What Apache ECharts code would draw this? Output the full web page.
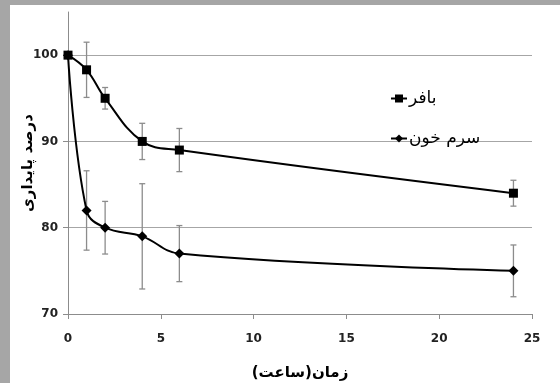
<!DOCTYPE html>
<html>
<head>
<meta charset="utf-8">
<script src="https://cdn.jsdelivr.net/npm/echarts@6/dist/echarts.min.js"></script>
<style>
html,body{margin:0;padding:0;}
#wrap{position:relative;width:560px;height:383px;background:#a6a6a6;overflow:hidden;}
#chart{position:absolute;left:10px;top:5px;width:550px;height:378px;background:#fff;}
</style>
</head>
<body>
<div id="wrap"><div id="chart"></div></div>
<script>
var times = [0, 1, 2, 4, 6, 24];
var bufferName = 'بافر';
var bufferValues = [100, 98.3, 95, 90, 89, 84];
var bufferErrors = [0, 3.2, 1.25, 2.1, 2.5, 1.5];
var serumName = 'سرم خون';
var serumValues = [100, 82, 80, 79, 77, 75];
var serumErrors = [0, 4.6, 3.05, 6.1, 3.25, 3.0];
var xTitle = 'زمان(ساعت)';
var yTitle = 'درصد پایداری';

function pairs(xs, ys) { return xs.map(function (x, i) { return [x, ys[i]]; }); }
function errData(xs, ys, es) {
  var out = [];
  xs.forEach(function (x, i) { if (es[i] > 0) out.push([x, ys[i] - es[i], ys[i] + es[i]]); });
  return out;
}
function errRender(params, api) {
  var x = api.value(0);
  var lo = api.coord([x, api.value(1)]);
  var hi = api.coord([x, api.value(2)]);
  var cap = 3;
  var st = { stroke: '#8c8c8c', lineWidth: 1.3 };
  return {
    type: 'group',
    children: [
      { type: 'line', shape: { x1: lo[0], y1: lo[1], x2: hi[0], y2: hi[1] }, style: st },
      { type: 'line', shape: { x1: lo[0] - cap, y1: lo[1], x2: lo[0] + cap, y2: lo[1] }, style: st },
      { type: 'line', shape: { x1: hi[0] - cap, y1: hi[1], x2: hi[0] + cap, y2: hi[1] }, style: st }
    ]
  };
}

var chart = echarts.init(document.getElementById('chart'), null, { renderer: 'canvas' });
var font = 'DejaVu Sans';
chart.setOption({
  animation: false,
  backgroundColor: '#ffffff',
  textStyle: { fontFamily: font },
  grid: { left: 58, right: 28, top: 7, bottom: 69, containLabel: false, outerBoundsMode: 'none' },
  legend: {
    orient: 'vertical',
    left: 375,
    top: 80,
    itemGap: 23,
    itemWidth: 16,
    itemHeight: 10,
    data: [bufferName, serumName],
    textStyle: { fontSize: 17, color: '#000', fontFamily: font, padding: [0, 0, 0, -3] }
  },
  xAxis: {
    type: 'value',
    min: 0, max: 25, interval: 5,
    name: xTitle,
    nameLocation: 'middle',
    nameGap: 52,
    nameMoveOverlap: false,
    nameTextStyle: { fontSize: 15, fontWeight: 'bold', color: '#000', fontFamily: font },
    axisLine: { show: true, lineStyle: { color: '#8c8c8c', width: 1 } },
    axisTick: { show: true, inside: false, length: 5, lineStyle: { color: '#8c8c8c' } },
    axisLabel: { fontSize: 12, fontWeight: 'bold', color: '#222', margin: 19, fontFamily: font },
    splitLine: { show: false }
  },
  yAxis: {
    type: 'value',
    min: 70, max: 105, interval: 10,
    name: yTitle,
    nameLocation: 'middle',
    nameGap: 32,
    nameMoveOverlap: false,
    nameTextStyle: { fontSize: 15, fontWeight: 'bold', color: '#000', fontFamily: font },
    axisLine: { show: true, lineStyle: { color: '#8c8c8c', width: 1 } },
    axisTick: { show: true, inside: false, length: 5, lineStyle: { color: '#8c8c8c' } },
    axisLabel: { fontSize: 12, fontWeight: 'bold', color: '#222', margin: 10, showMaxLabel: false, fontFamily: font,
      formatter: function (v) { return v > 100 ? '' : String(v); } },
    splitLine: { show: true, showMaxLine: false, showMinLine: false, lineStyle: { color: '#a6a6a6', width: 1 } }
  },
  series: [
    {
      type: 'custom', name: 'err1', renderItem: errRender, z: 1,
      data: errData(times, bufferValues, bufferErrors), silent: true
    },
    {
      type: 'custom', name: 'err2', renderItem: errRender, z: 1,
      data: errData(times, serumValues, serumErrors), silent: true
    },
    {
      type: 'line', name: bufferName, data: pairs(times, bufferValues), z: 3,
      smooth: 0.4, symbol: 'rect', symbolSize: 9,
      lineStyle: { color: '#000', width: 2 },
      itemStyle: { color: '#000' }
    },
    {
      type: 'line', name: serumName, data: pairs(times, serumValues), z: 3,
      smooth: 0.4, symbol: 'diamond', symbolSize: 10,
      lineStyle: { color: '#000', width: 2 },
      itemStyle: { color: '#000' }
    }
  ]
});
</script>
</body>
</html>
